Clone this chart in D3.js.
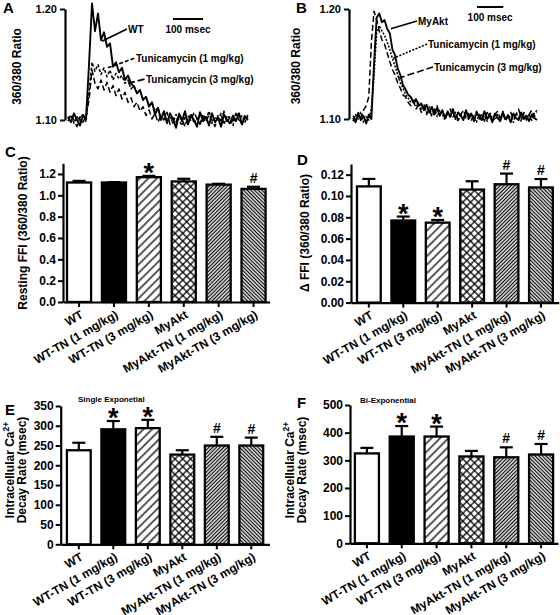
<!DOCTYPE html>
<html><head><meta charset="utf-8">
<script src="https://cdn.jsdelivr.net/npm/d3@7"></script>
<style>
body{margin:0;background:#fff}
svg{display:block;font-family:Arial,"Liberation Sans",sans-serif;font-weight:bold}
</style>
</head><body>
<svg id="c" width="560" height="615"></svg>
<script>
// ---------------- DATA ----------------
const categories = ["WT","WT-TN (1 mg/kg)","WT-TN (3 mg/kg)","MyAkt","MyAkt-TN (1 mg/kg)","MyAkt-TN (3 mg/kg)"];

const restingFFI = [1.12, 1.12, 1.17, 1.13, 1.10, 1.06];
const restingErr = [0.015, 0.004, 0.012, 0.025, 0.008, 0.02];
const restingSig = ["", "", "*", "", "", "#"];

const deltaFFI = [0.109, 0.077, 0.075, 0.106, 0.111, 0.108];
const deltaErr = [0.007, 0.0037, 0.0025, 0.0078, 0.010, 0.0079];
const deltaSig = ["", "*", "*", "", "#", "#"];

const singleExp = [238, 291, 294, 227, 250, 250];
const singleErr = [19, 21, 21, 11, 22, 20];
const singleSig = ["", "*", "*", "", "#", "#"];

const biExp = [325, 386, 386, 314, 311, 321];
const biErr = [20, 38, 36, 20, 36, 38];
const biSig = ["", "*", "*", "", "#", "#"];

const ticksC = [0, 0.2, 0.4, 0.6, 0.8, 1.0, 1.2];
const ticksD = [0, 0.02, 0.04, 0.06, 0.08, 0.10, 0.12];
const ticksE = [0, 50, 100, 150, 200, 250, 300, 350];
const ticksF = [0, 100, 200, 300, 400, 500];
const ticksTrace = [1.10, 1.20];

// Calcium transient traces (360/380 ratio), sampled every 10 msec
const timeA = [0,10,20,30,40,50,60,70,80,90,100,110,120,130,140,150,160,170,180,190,200,210,220,230,240,250,260,270,280,290,300,310,320,330,340,350,360,370,380,390,400,410,420,430,440,450,460,470,480,490,500,510,520,530,540,550,560,570,580,590,600];
const wtTrace = [1.103,1.098,1.106,1.100,1.095,1.104,1.101,1.150,1.205,1.180,1.196,1.172,1.179,1.166,1.169,1.148,1.152,1.143,1.147,1.136,1.140,1.133,1.130,1.124,1.127,1.118,1.121,1.112,1.116,1.105,1.111,1.100,1.108,1.097,1.106,1.101,1.093,1.105,1.099,1.108,1.096,1.104,1.100,1.094,1.107,1.099,1.103,1.095,1.106,1.098,1.102,1.094,1.105,1.100,1.097,1.104,1.099,1.106,1.096,1.103,1.100];
const wtTn1Trace = [1.101,1.104,1.097,1.103,1.099,1.106,1.098,1.125,1.152,1.144,1.150,1.141,1.147,1.139,1.145,1.136,1.142,1.137,1.140,1.133,1.136,1.128,1.131,1.124,1.127,1.119,1.121,1.113,1.116,1.108,1.111,1.103,1.107,1.099,1.104,1.097,1.105,1.100,1.095,1.103,1.098,1.106,1.097,1.102,1.096,1.105,1.100,1.108,1.097,1.103,1.099,1.106,1.096,1.104,1.101,1.095,1.107,1.100,1.104,1.098,1.105];
const wtTn3Trace = [1.099,1.105,1.100,1.094,1.103,1.098,1.104,1.118,1.145,1.133,1.128,1.136,1.127,1.134,1.125,1.131,1.122,1.128,1.119,1.125,1.116,1.120,1.112,1.116,1.108,1.112,1.104,1.109,1.101,1.106,1.098,1.104,1.100,1.107,1.096,1.102,1.098,1.106,1.101,1.094,1.104,1.099,1.107,1.101,1.096,1.103,1.098,1.105,1.100,1.094,1.104,1.099,1.108,1.097,1.103,1.099,1.106,1.101,1.096,1.105,1.102];

const timeB = [0,10,20,30,40,50,60,70,80,90,100,110,120,130,140,150,160,170,180,190,200,210,220,230,240,250,260,270,280,290,300,310,320,330,340,350,360,370,380,390,400,410,420,430,440,450,460,470,480,490,500,510,520,530,540,550,560,570,580,590,600,610,620,630,640,650,660,670,680,690,700];
const myaktTrace = [1.101,1.097,1.105,1.099,1.103,1.096,1.104,1.100,1.150,1.192,1.196,1.188,1.190,1.182,1.178,1.163,1.158,1.146,1.140,1.131,1.127,1.122,1.120,1.115,1.118,1.112,1.114,1.108,1.113,1.106,1.111,1.104,1.110,1.103,1.108,1.101,1.107,1.102,1.109,1.100,1.106,1.103,1.099,1.108,1.101,1.105,1.098,1.106,1.102,1.099,1.107,1.100,1.104,1.097,1.105,1.101,1.098,1.106,1.100,1.103,1.097,1.105,1.101,1.099,1.106,1.100,1.103,1.098,1.104,1.101,1.099];
const myaktTn1Trace = [1.098,1.104,1.100,1.106,1.097,1.102,1.099,1.110,1.140,1.178,1.185,1.180,1.176,1.170,1.163,1.155,1.148,1.140,1.133,1.128,1.122,1.119,1.115,1.117,1.112,1.115,1.109,1.113,1.106,1.111,1.104,1.109,1.102,1.108,1.104,1.099,1.106,1.101,1.108,1.102,1.098,1.105,1.100,1.107,1.099,1.104,1.101,1.097,1.105,1.100,1.103,1.098,1.106,1.101,1.099,1.104,1.100,1.107,1.099,1.104,1.101,1.097,1.105,1.102,1.098,1.106,1.100,1.104,1.099,1.105,1.108];
const myaktTn3Trace = [1.103,1.099,1.106,1.101,1.108,1.112,1.120,1.170,1.198,1.190,1.180,1.172,1.168,1.160,1.152,1.145,1.140,1.133,1.128,1.122,1.120,1.115,1.112,1.116,1.109,1.113,1.106,1.111,1.104,1.109,1.102,1.107,1.112,1.103,1.108,1.100,1.105,1.109,1.102,1.106,1.099,1.104,1.108,1.101,1.105,1.099,1.103,1.107,1.100,1.104,1.098,1.106,1.102,1.099,1.104,1.107,1.101,1.105,1.098,1.103,1.106,1.100,1.104,1.109,1.101,1.105,1.099,1.104,1.108,1.102,1.106];

// ---------------- DRAWING ----------------
const svg = d3.select("#c");
const defs = svg.append("defs");

function hatch(id, spacing, angle, sw, cross) {
  const p = defs.append("pattern").attr("id", id)
    .attr("patternUnits", "userSpaceOnUse")
    .attr("width", spacing).attr("height", spacing)
    .attr("patternTransform", `rotate(${angle})`);
  p.append("rect").attr("width", spacing).attr("height", spacing).attr("fill", "#fff");
  p.append("line").attr("x1", spacing / 2).attr("y1", 0).attr("x2", spacing / 2).attr("y2", spacing)
    .attr("stroke", "#000").attr("stroke-width", sw);
  if (cross) p.append("line").attr("x1", 0).attr("y1", spacing / 2).attr("x2", spacing).attr("y2", spacing / 2)
    .attr("stroke", "#000").attr("stroke-width", sw);
}
hatch("h3", 6, 45, 1.3, false);
hatch("cx", 5.5, 45, 1.3, true);
hatch("d1", 2.6, 45, 1.25, false);
hatch("d2", 2.6, -45, 1.25, false);
const fills = ["#fff", "#000", "url(#h3)", "url(#cx)", "url(#d1)", "url(#d2)"];

function styleAxis(g, fs) {
  g.select(".domain").attr("stroke", "#000").attr("stroke-width", 2.2);
  g.selectAll(".tick line").attr("stroke", "#000").attr("stroke-width", 2);
  g.selectAll(".tick text").attr("font-size", fs).attr("font-weight", "bold")
    .attr("font-family", "Arial, 'Liberation Sans', sans-serif").attr("fill", "#000");
}

function panelLetter(t, x, y) {
  svg.append("text").attr("x", x).attr("y", y).attr("font-size", 15).text(t);
}

function barPanel(cfg) {
  const g = svg.append("g");
  const x = d3.scaleBand().domain(categories).range([cfg.ax, cfg.xEnd])
    .paddingInner(0.31).paddingOuter(cfg.po);
  const y = d3.scaleLinear().domain([0, cfg.max]).range([cfg.y0, cfg.yTop]);
  const bw = x.bandwidth();

  // error bars (upper only)
  g.selectAll("line.err").data(cfg.vals).join("line")
    .attr("x1", (d, i) => x(categories[i]) + bw / 2).attr("x2", (d, i) => x(categories[i]) + bw / 2)
    .attr("y1", d => y(d)).attr("y2", (d, i) => y(d + cfg.errs[i]))
    .attr("stroke", "#000").attr("stroke-width", 2.2);
  g.selectAll("line.cap").data(cfg.vals).join("line")
    .attr("x1", (d, i) => x(categories[i]) + bw / 2 - 6.5).attr("x2", (d, i) => x(categories[i]) + bw / 2 + 6.5)
    .attr("y1", (d, i) => y(d + cfg.errs[i])).attr("y2", (d, i) => y(d + cfg.errs[i]))
    .attr("stroke", "#000").attr("stroke-width", 2.2);

  // bars
  g.selectAll("rect.bar").data(cfg.vals).join("rect")
    .attr("x", (d, i) => x(categories[i])).attr("width", bw)
    .attr("y", d => y(d)).attr("height", d => cfg.y0 - y(d))
    .attr("fill", (d, i) => fills[i]).attr("stroke", "#000").attr("stroke-width", 2.3);

  // significance marks
  g.selectAll("text.sig").data(cfg.vals).join("text")
    .attr("x", (d, i) => x(categories[i]) + bw / 2)
    .attr("y", (d, i) => cfg.sig[i] === "*" ? y(d + cfg.errs[i]) + 6 : y(d + cfg.errs[i]) - 4)
    .attr("text-anchor", "middle")
    .attr("font-size", (d, i) => cfg.sig[i] === "*" ? 27 : 14)
    .text((d, i) => cfg.sig[i]);

  // y axis
  const ya = g.append("g").attr("transform", `translate(${cfg.ax},0)`)
    .call(d3.axisLeft(y).tickValues(cfg.ticks).tickFormat(d3.format(cfg.fmt)).tickSize(5).tickPadding(2).tickSizeOuter(0));
  styleAxis(ya, 12);

  // x axis
  const xa = g.append("g").attr("transform", `translate(0,${cfg.y0})`)
    .call(d3.axisBottom(x).tickSize(5).tickSizeOuter(0).tickFormat(""));
  styleAxis(xa, 12);

  g.selectAll("text.xl").data(categories).join("text")
    .attr("transform", d => `translate(${x(d) + bw / 2 + 5},${cfg.y0 + 15}) rotate(-30)`)
    .attr("text-anchor", "end").attr("font-size", 12).text(d => d);

  // y label
  const yl = g.append("text").attr("text-anchor", "middle").attr("font-size", 12)
    .attr("transform", `translate(${cfg.lx},${cfg.ly}) rotate(-90)`);
  if (cfg.label2) {
    yl.append("tspan").attr("x", 0).attr("dy", 0).text("Intracellular Ca");
    yl.append("tspan").attr("dy", -5).attr("font-size", 8.5).text("2+");
    g.append("text").attr("text-anchor", "middle").attr("font-size", 12)
      .attr("transform", `translate(${cfg.lx + 11.5},${cfg.ly}) rotate(-90)`).text(cfg.label2);
  } else {
    yl.text(cfg.label);
  }
  if (cfg.title) {
    g.append("text").attr("x", cfg.tx).attr("y", cfg.ty).attr("font-size", 8).text(cfg.title);
  }
}

barPanel({ax: 63, xEnd: 269.6, po: 0.115, y0: 302, yTop: 163.3, max: 1.3,
  vals: restingFFI, errs: restingErr, sig: restingSig, ticks: ticksC, fmt: ".1f",
  lx: 27, ly: 233, label: "Resting FFI (360/380 Ratio)"});
barPanel({ax: 351, xEnd: 558.8, po: 0.174, y0: 302.6, yTop: 164, max: 0.13,
  vals: deltaFFI, errs: deltaErr, sig: deltaSig, ticks: ticksD, fmt: ".2f",
  lx: 309, ly: 233, label: "\u0394 FFI (360/380 Ratio)"});
barPanel({ax: 60.7, xEnd: 269.4, po: 0.18, y0: 544.3, yTop: 406, max: 350,
  vals: singleExp, errs: singleErr, sig: singleSig, ticks: ticksE, fmt: "d",
  lx: 14, ly: 470, label2: "Decay Rate (msec)", title: "Single Exponetial", tx: 78, ty: 402});
barPanel({ax: 350, xEnd: 558, po: 0.14, y0: 543.3, yTop: 405, max: 500,
  vals: biExp, errs: biErr, sig: biSig, ticks: ticksF, fmt: "d",
  lx: 294, ly: 470, label2: "Decay Rate (msec)", title: "Bi-Exponential", tx: 360, ty: 403});

// ---- trace panels ----
function tracePanel(cfg) {
  const g = svg.append("g");
  const x = d3.scaleLinear().domain([0, cfg.tmax]).range([cfg.x0, cfg.x1]);
  const y = d3.scaleLinear().domain([1.10, 1.20]).range([cfg.yb, cfg.yt]);
  const line = d3.line().x((d, i) => x(cfg.time[i])).y(d => y(d));
  cfg.series.forEach(s => {
    g.append("path").attr("d", line(s.v)).attr("fill", "none").attr("stroke", "#000")
      .attr("stroke-width", s.w).attr("stroke-dasharray", s.dash).attr("stroke-linejoin", "round");
  });
  const ya = g.append("g").attr("transform", `translate(${cfg.ax},0)`)
    .call(d3.axisLeft(y).tickValues(ticksTrace).tickFormat(d3.format(".2f")).tickSize(5).tickPadding(3).tickSizeOuter(0));
  styleAxis(ya, 11);
  g.append("text").attr("text-anchor", "middle").attr("font-size", 12)
    .attr("transform", `translate(${cfg.lx},${(cfg.yb + cfg.yt) / 2 + 2}) rotate(-90)`).text("360/380 Ratio");
  // scale bar 100 msec
  g.append("line").attr("x1", cfg.sbx).attr("x2", cfg.sbx + x(100) - x(0))
    .attr("y1", cfg.sby).attr("y2", cfg.sby).attr("stroke", "#000").attr("stroke-width", 2);
  g.append("text").attr("x", cfg.sbx + (x(100) - x(0)) / 2).attr("y", cfg.sby + 14)
    .attr("text-anchor", "middle").attr("font-size", 10).text("100 msec");
  // annotations
  cfg.notes.forEach(n => {
    g.append("line").attr("x1", x(n.t)).attr("y1", y(n.v)).attr("x2", n.lx).attr("y2", n.ly)
      .attr("stroke", "#000").attr("stroke-width", 1.6).attr("stroke-dasharray", n.dash);
    g.append("text").attr("x", n.lx + 1).attr("y", n.ly + 3.5).attr("font-size", 10).text(n.text);
  });
}

tracePanel({time: timeA, tmax: 600, x0: 68, x1: 248, yb: 120, yt: 9, ax: 65, lx: 21,
  sbx: 173, sby: 19,
  series: [
    {v: wtTn3Trace, w: 1.5, dash: "6,3"},
    {v: wtTn1Trace, w: 1.5, dash: "3,2"},
    {v: wtTrace, w: 1.9, dash: null}
  ],
  notes: [
    {t: 113, v: 1.171, lx: 127, ly: 29, text: "WT", dash: null},
    {t: 133, v: 1.147, lx: 135, ly: 58, text: "Tunicamycin (1 mg/kg)", dash: "4,2"},
    {t: 200, v: 1.133, lx: 145, ly: 79, text: "Tunicamycin (3 mg/kg)", dash: "7,3"}
  ]});

tracePanel({time: timeB, tmax: 700, x0: 353, x1: 537, yb: 119, yt: 9, ax: 349, lx: 300,
  sbx: 477, sby: 7,
  series: [
    {v: myaktTn3Trace, w: 1.5, dash: "6,3"},
    {v: myaktTn1Trace, w: 1.5, dash: "2,1.5"},
    {v: myaktTrace, w: 1.9, dash: null}
  ],
  notes: [
    {t: 144, v: 1.182, lx: 417, ly: 21, text: "MyAkt", dash: null},
    {t: 152, v: 1.155, lx: 427, ly: 44, text: "Tunicamycin (1 mg/kg)", dash: "2,1.5"},
    {t: 171, v: 1.137, lx: 433, ly: 67, text: "Tunicamycin (3 mg/kg)", dash: "7,3"}
  ]});

panelLetter("A", 3, 13);
panelLetter("B", 296, 13);
panelLetter("C", 5, 157);
panelLetter("D", 297, 165);
panelLetter("E", 5, 415);
panelLetter("F", 297, 408);
</script>
</body></html>
